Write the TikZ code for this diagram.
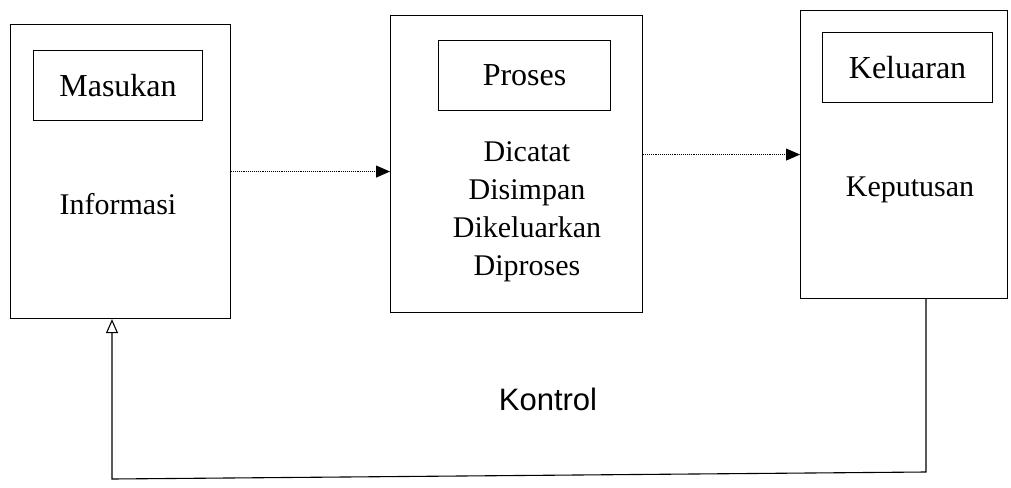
\documentclass[tikz,border=0pt]{standalone}
\usepackage{fontspec}
\setmainfont{Liberation Serif}
\newfontfamily\kfont{Liberation Sans}
\usetikzlibrary{arrows.meta}
\begin{document}
\begin{tikzpicture}[x=1pt,y=-1pt,
  outerbox/.style={draw, line width=1.1pt, inner sep=0pt, anchor=north west},
  innerbox/.style={draw, line width=1.1pt, inner sep=0pt, anchor=north west,
    font=\fontsize{32}{36}\selectfont},
  label/.style={font=\fontsize{30}{38}\selectfont, align=center, inner sep=0pt},
  flow/.style={densely dotted, line width=0.9pt, -{Triangle[length=14pt,width=12pt]}},
  fb/.style={line width=1.1pt, -{Triangle[open,length=14pt,width=12pt]}}]
\useasboundingbox (0,0) rectangle (1011,487);
% boxes
\node[outerbox, minimum width=220pt, minimum height=294pt] (b1) at (10,24) {};
\node[innerbox, minimum width=169pt, minimum height=70pt] (i1) at (33,50) {Masukan};
\node[label] (t1) at (118,204) {Informasi};
\node[outerbox, minimum width=252pt, minimum height=297pt] (b2) at (390,15) {};
\node[innerbox, minimum width=172pt, minimum height=70pt] (i2) at (438,40) {Proses};
\node[label] (t2) at (527,212) {Dicatat\\Disimpan\\Dikeluarkan\\Diproses};
\node[outerbox, minimum width=207pt, minimum height=288pt] (b3) at (800,10) {};
\node[innerbox, minimum width=170pt, minimum height=70pt] (i3) at (822,32) {Keluaran};
\node[label] (t3) at (910,190) {Keputusan};
\node[font=\kfont\fontsize{31}{34}\selectfont, inner sep=0pt] (k) at (548,399) {Kontrol};
% connectors
\draw[flow] (b1.east) -- (b1.east -| b2.west);
\draw[flow] (b2.east |- b3.west) -- (b3.west);
\coordinate (fbx) at (926,472);
\coordinate (fby) at (112,479);
\draw[fb] (b3.south -| fbx) -- (fbx) -- (fby) -- (b1.south -| fby);
\end{tikzpicture}
\end{document}
